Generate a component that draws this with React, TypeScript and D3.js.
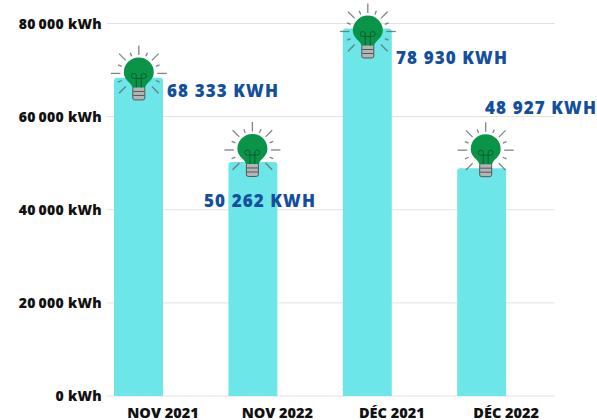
import React from "react";
import * as d3 from "d3";

const categories = ["NOV 2021", "NOV 2022", "DÉC 2021", "DÉC 2022"];
const values = [68333, 50262, 78930, 48927];
const valueLabels = ["68 333 KWH", "50 262 KWH", "78 930 KWH", "48 927 KWH"];
const tickValues = [0, 20000, 40000, 60000, 80000];
const tickLabels = ["0 kWh", "20\u2009000 kWh", "40\u2009000 kWh", "60\u2009000 kWh", "80\u2009000 kWh"];
const labelAnchors: [number, number][] = [[167, 97], [204, 207], [396, 64], [485, 114]];
const bulbLift = [4.4, 12, -3, 18];
const bulbShift = [0.3, -0.5, 0.5, 4];

const FONT = "'Open Sans', sans-serif";
const y = d3.scaleLinear().domain([0, 80000]).range([396, 23.5]);
const x = d3.scaleBand<string>().domain(categories).range([81.3, 538.9]).paddingInner(0.572).paddingOuter(0.286);

function Bulb({ cx, cy }: { cx: number; cy: number }) {
  return (
    <g transform={`translate(${cx},${cy})`}>
      {d3.range(-225, 46, 22.5).map((a, i) => {
        const long = i % 2 === 0;
        const r0 = 18.5;
        const r1 = long ? 28 : 22.5;
        const t = (a * Math.PI) / 180;
        return (
          <line key={i} x1={r0 * Math.cos(t)} y1={r0 * Math.sin(t)} x2={r1 * Math.cos(t)} y2={r1 * Math.sin(t)}
            stroke="#666" strokeWidth={1.3} opacity={0.8} />
        );
      })}
      <rect x={-6} y={13} width={12} height={13.5} rx={2} fill="#b5b5b5" stroke="#555" strokeWidth={1} />
      <line x1={-5.5} x2={5.5} y1={18} y2={18} stroke="#555" strokeWidth={1} />
      <line x1={-5.5} x2={5.5} y1={22} y2={22} stroke="#555" strokeWidth={1} />
      <path d="M-6.5,14 C-7,9 -15,7 -15,-1 A15,15 0 1 1 15,-1 C15,7 7,9 6.5,14 Z" fill="#0a9448" />
      <path d="M-2.5,14 V3 A2.5,2.5 0 1 0 -5,5 H5 A2.5,2.5 0 1 0 2.5,3 V14" fill="none" stroke="#0a5c34" strokeWidth={1} />
    </g>
  );
}

export default function App() {
  return (
    <svg width={597} height={420} style={{ position: "absolute", left: 0, top: 0, background: "#fff" }}>
      {tickValues.map((t, i) => (
        <g key={t}>
          <line x1={107} x2={555} y1={y(t)} y2={y(t)} stroke="#e2e2e2" strokeWidth={1} />
          <text x={102} y={y(t) + 5} textAnchor="end" fontFamily={FONT} fontWeight={800} fontSize={14} letterSpacing={0.3} fill="#111">
            {tickLabels[i]}
          </text>
        </g>
      ))}
      {categories.map((c, i) => (
        <g key={c}>
          <path
            d={`M${x(c)!},${y(0)}V${y(values[i]) + 3}q0,-3 3,-3H${x(c)! + x.bandwidth() - 3}q3,0 3,3V${y(0)}Z`}
            fill="#6ce6e9"
          />
          <text x={x(c)! + x.bandwidth()} y={417.5} textAnchor="middle" fontFamily={FONT} fontWeight={800} fontSize={14.5} fill="#111">
            {c}
          </text>
        </g>
      ))}
      {categories.map((c, i) => (
        <Bulb key={c} cx={x(c)! + x.bandwidth() / 2 + bulbShift[i]} cy={y(values[i]) - bulbLift[i]} />
      ))}
      {valueLabels.map((l, i) => (
        <text key={l} x={labelAnchors[i][0]} y={labelAnchors[i][1]} fontFamily={FONT} fontWeight={800} fontSize={17} letterSpacing={1.1} fill="#134f9e">
          {l}
        </text>
      ))}
    </svg>
  );
}
